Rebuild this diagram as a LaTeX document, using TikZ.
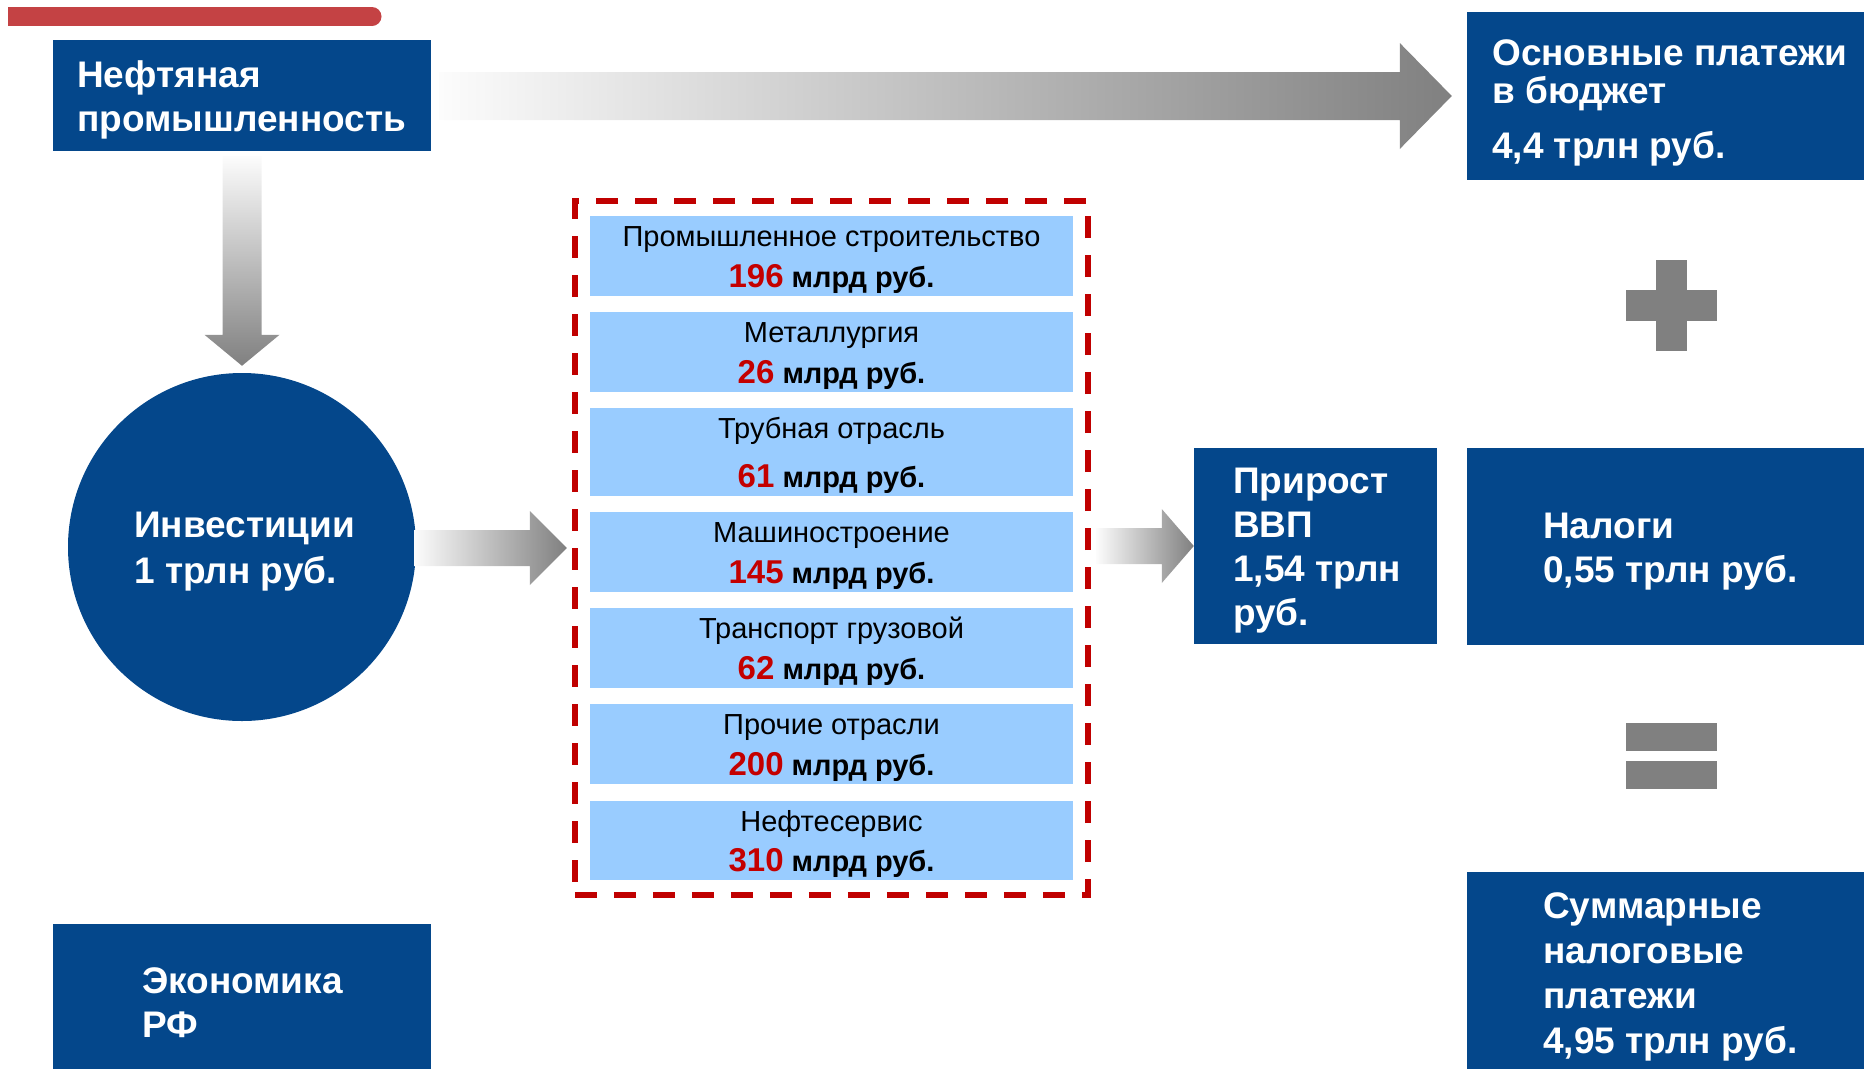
\documentclass[tikz,border=0pt]{standalone}
\usepackage{fontspec}
\setmainfont{Liberation Sans}
\usepackage{xcolor}
\usepackage{tikz}
\usetikzlibrary{positioning,calc,fit}
\definecolor{oilblue}{RGB}{4,71,139}
\definecolor{rowblue}{RGB}{153,204,255}
\definecolor{framered}{RGB}{192,0,0}
\definecolor{numred}{RGB}{196,0,0}
\definecolor{barred}{RGB}{196,66,68}
\definecolor{arrowgray}{RGB}{128,128,128}
\definecolor{arrowlight}{RGB}{252,252,252}
\newcommand{\boxlines}[1]{\begin{tabular}[t]{@{}l@{}}#1\end{tabular}}
% flat block arrow: start, tip, shaft half width, head half width, head length
\newcommand{\fatarrow}[5]{%
  \shade[left color=arrowlight, right color=arrowgray]
    ($(#1 |- #2)+(0,-#3)$) -- ($(#2)+(-#5,-#3)$) -- ($(#2)+(-#5,-#4)$) -- (#2)
    -- ($(#2)+(-#5,#4)$) -- ($(#2)+(-#5,#3)$) -- ($(#1 |- #2)+(0,#3)$) -- cycle;}
\tikzset{
  bluebox/.style={rectangle, fill=oilblue, inner sep=0pt},
  boxtext/.style={text=white, font=\fontsize{37}{44}\selectfont\bfseries, inner sep=0pt, anchor=base west},
  sectorrow/.style={rectangle, fill=rowblue, minimum width=483pt, inner sep=0pt},
  sectorname/.style={font=\fontsize{29}{29}\selectfont, inner sep=0pt, anchor=base},
  sectorval/.style={font=\fontsize{29}{29}\selectfont\bfseries, inner sep=0pt, anchor=base},
  sectorframe/.style={draw=framered, line width=6pt, dash pattern=on 22pt off 17pt, inner xsep=15pt, inner ysep=14.5pt},
  signbar/.style={fill=arrowgray}
}

\begin{document}
\begin{tikzpicture}[x=1pt, y=-1pt]
    \useasboundingbox (0,0) rectangle (1864,1069);

    % Red bar in the corner
    \fill[barred] (8,7) rectangle (372,26);
    \fill[barred] (372,16.5) circle[radius=9.5pt];

    % Blue boxes
    \node[bluebox, minimum width=378pt, minimum height=111pt] (neft) at (242,95.5) {};
    \node[bluebox, minimum width=397pt, minimum height=168pt] (budget) at (1665.5,96) {};
    \node[bluebox, minimum width=243pt, minimum height=196pt] (growth) at (1315.5,546) {};
    \node[bluebox, minimum width=397pt, minimum height=197pt] (taxes) at (1665.5,546.5) {};
    \node[bluebox, minimum width=397pt, minimum height=197pt] (total) at (1665.5,970.5) {};
    \node[bluebox, minimum width=378pt, minimum height=145pt] (econ) at (242,996.5) {};
    \node[circle, fill=oilblue, minimum size=348pt, inner sep=0pt] (invest) at (242,547) {};

    % Box texts
    \node[boxtext] (neft text) at (77,87) {\boxlines{Нефтяная\\промышленность}};
    \node[boxtext, font=\fontsize{37}{38}\selectfont\bfseries] (budget text) at (1492,65)
        {\boxlines{Основные платежи\\в бюджет\\[16pt]4,4 трлн руб.}};
    \node[boxtext] (growth text) at (1233,493) {\boxlines{Прирост\\ВВП\\1,54 трлн\\руб.}};
    \node[boxtext] (taxes text) at (1543,538) {\boxlines{Налоги\\0,55 трлн руб.}};
    \node[boxtext, font=\fontsize{37}{45}\selectfont\bfseries] (total text) at (1543,918)
        {\boxlines{Суммарные\\налоговые\\платежи\\4,95 трлн руб.}};
    \node[boxtext] (econ text) at (142,993) {\boxlines{Экономика\\РФ}};
    \node[boxtext, font=\fontsize{37}{46}\selectfont\bfseries] (invest text) at (134,537)
        {\boxlines{Инвестиции\\1 трлн руб.}};

    % Sector list
    \foreach \i/\top/\h/\sname/\sval in {1/216/80/Промышленное строительство/196,
        2/312/80/Металлургия/26, 3/408/88/Трубная отрасль/61, 4/512/80/Машиностроение/145,
        5/608/80/Транспорт грузовой/62, 6/704/80/Прочие отрасли/200, 7/801/79/Нефтесервис/310} {
        \node[sectorrow, minimum height=\h pt] (sec\i) at (831.5,{\top+\h/2}) {};
        \node[sectorname] (sec\i name) at (831.5,\top+30) {\sname};
        \node[sectorval] (sec\i val) at (831.5,{\top+\h-9})
            {{\color{numred}\fontsize{33}{33}\selectfont\sval} млрд руб.};
    }
    \node[sectorframe, fit=(sec1)(sec7)] (frame) {};

    % Arrows
    \coordinate (flow start) at ($(neft.east)+(8,0)$);
    \coordinate (flow tip) at ($(budget.west)+(-15,0)$);
    \fatarrow{flow start}{flow tip}{24}{53}{52}

    \coordinate (inv start) at ($(invest.east)+(-2,0)$);
    \coordinate (inv tip) at ($(frame.west)+(-5,0)$);
    \fatarrow{inv start}{inv tip}{18}{37}{37}

    \coordinate (gdp start) at ($(frame.east)+(5,0)$);
    \fatarrow{gdp start}{growth.west}{18}{37}{32}

    \shade[top color=arrowlight, bottom color=arrowgray]
        ($(neft.south)+(-19.5,5)$) -- ($(invest.north)+(-19.5,-38)$) -- ($(invest.north)+(-37.5,-38)$)
        -- ($(invest.north)+(0,-7)$) -- ($(invest.north)+(37.5,-38)$) -- ($(invest.north)+(19.5,-38)$)
        -- ($(neft.south)+(19.5,5)$) -- cycle;

    % Plus and equals
    \fill[signbar] (1656,260) rectangle (1687,351);
    \fill[signbar] (1626,290) rectangle (1717,321);
    \fill[signbar] (1626,723) rectangle (1717,751);
    \fill[signbar] (1626,761) rectangle (1717,789);
\end{tikzpicture}
\end{document}
